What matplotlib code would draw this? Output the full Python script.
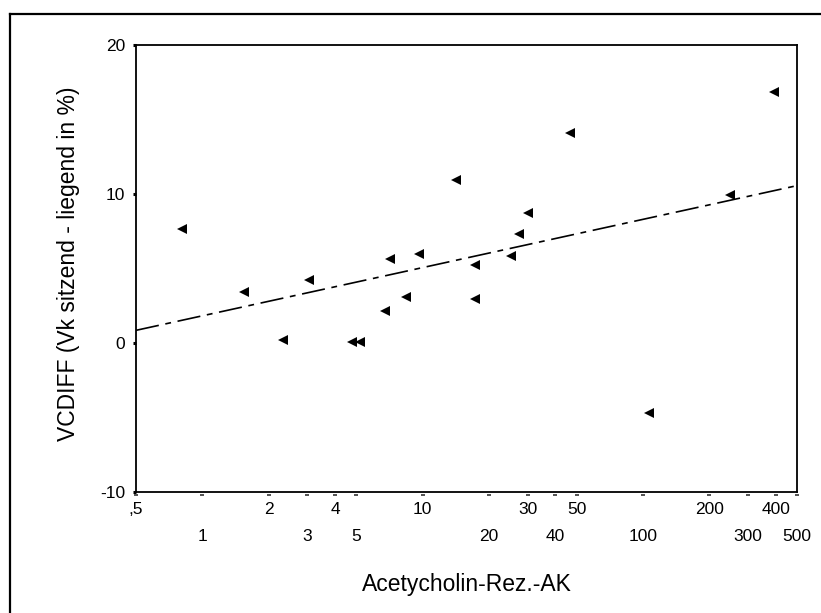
import numpy as np
import matplotlib
matplotlib.use('Agg')
import matplotlib.pyplot as plt
import matplotlib.transforms as mtransforms
from matplotlib.lines import Line2D

plt.rcParams['font.family'] = ['Liberation Sans', 'DejaVu Sans']

ak_werte = [0.81, 1.55, 2.33, 3.04, 4.8, 5.18, 6.76, 7.13, 8.36, 9.64,
            14.2, 17.3, 17.3, 25.1, 27.4, 30.1, 46.7, 106, 249, 394]
vcdiff = [7.65, 3.40, 0.18, 4.25, 0.05, 0.05, 2.15, 5.64, 3.11, 5.95,
          10.94, 5.23, 2.97, 5.84, 7.32, 8.70, 14.07, -4.72, 9.93, 16.82]

x_ticks_oben = [0.5, 2, 4, 10, 30, 50, 200, 400]
x_labels_oben = [',5', '2', '4', '10', '30', '50', '200', '400']
x_ticks_unten = [1, 3, 5, 20, 40, 100, 300, 500]
x_labels_unten = ['1', '3', '5', '20', '40', '100', '300', '500']
y_ticks = [-10, 0, 10, 20]

fig = plt.figure(figsize=(8.21, 6.13), dpi=100)
ax = fig.add_axes([136 / 821, 1 - 492 / 613, (797 - 136) / 821, (492 - 45) / 613])

ax.set_xscale('log')
ax.set_xlim(0.5, 500)
ax.set_ylim(-10, 20)

# Punkte
ax.plot(ak_werte, vcdiff, linestyle='none', marker='<', markersize=6.5,
        color='black', markeredgewidth=0, clip_on=False)

# lineare Regression auf log10(x)
b, a = np.polyfit(np.log10(ak_werte), vcdiff, 1)
xs = np.array([0.5, 500])
linie, = ax.plot(xs, a + b * np.log10(xs), color='black', linewidth=1.2)
linie.set_dashes((14, 4, 3.5, 4))

# Achsen / Ticks im SPSS-Stil
for s in ax.spines.values():
    s.set_linewidth(1.3)

ax.set_yticks(y_ticks)
ax.set_yticklabels([str(v) for v in y_ticks], fontsize=12.5)
ax.tick_params(axis='y', length=2.2, width=2.2, direction='out', pad=5.5)

ax.xaxis.set_major_locator(matplotlib.ticker.FixedLocator(x_ticks_oben))
ax.xaxis.set_major_formatter(matplotlib.ticker.FixedFormatter(x_labels_oben))
ax.xaxis.set_minor_locator(matplotlib.ticker.FixedLocator(x_ticks_unten))
ax.xaxis.set_minor_formatter(matplotlib.ticker.FixedFormatter(x_labels_unten))
ax.tick_params(axis='x', which='major', length=0, pad=7.5, labelsize=12.5)
ax.tick_params(axis='x', which='minor', length=0, pad=26.5, labelsize=12.5)

# kleine Striche unter der x-Achse
trans = mtransforms.blended_transform_factory(ax.transData, ax.transAxes)
trans = trans + mtransforms.ScaledTranslation(0, -2.5 / 72, fig.dpi_scale_trans)
ax.plot(x_ticks_oben + x_ticks_unten, [0] * 16, linestyle='none', marker='_',
        markersize=3.5, markeredgewidth=1.3, color='#444444',
        transform=trans, clip_on=False)

ax.set_ylabel('VCDIFF (Vk sitzend - liegend in %)', fontsize=16.5)
ax.set_xlabel('Acetycholin-Rez.-AK', fontsize=16.5)
ax.yaxis.set_label_coords((69 - 136) / 661, (492 - 264) / 447)
ax.yaxis.label.set_verticalalignment('center')
ax.xaxis.set_label_coords(0.5, (492 - 585) / 447)
ax.xaxis.label.set_verticalalignment('center')

# äußerer Rahmen
fig.add_artist(Line2D([10 / 821, 10 / 821], [0, 1 - 14 / 613], color='black',
                      linewidth=1.6, transform=fig.transFigure))
fig.add_artist(Line2D([10 / 821, 1], [1 - 14 / 613, 1 - 14 / 613], color='black',
                      linewidth=1.6, transform=fig.transFigure))

fig.savefig('out.png', dpi=100)
